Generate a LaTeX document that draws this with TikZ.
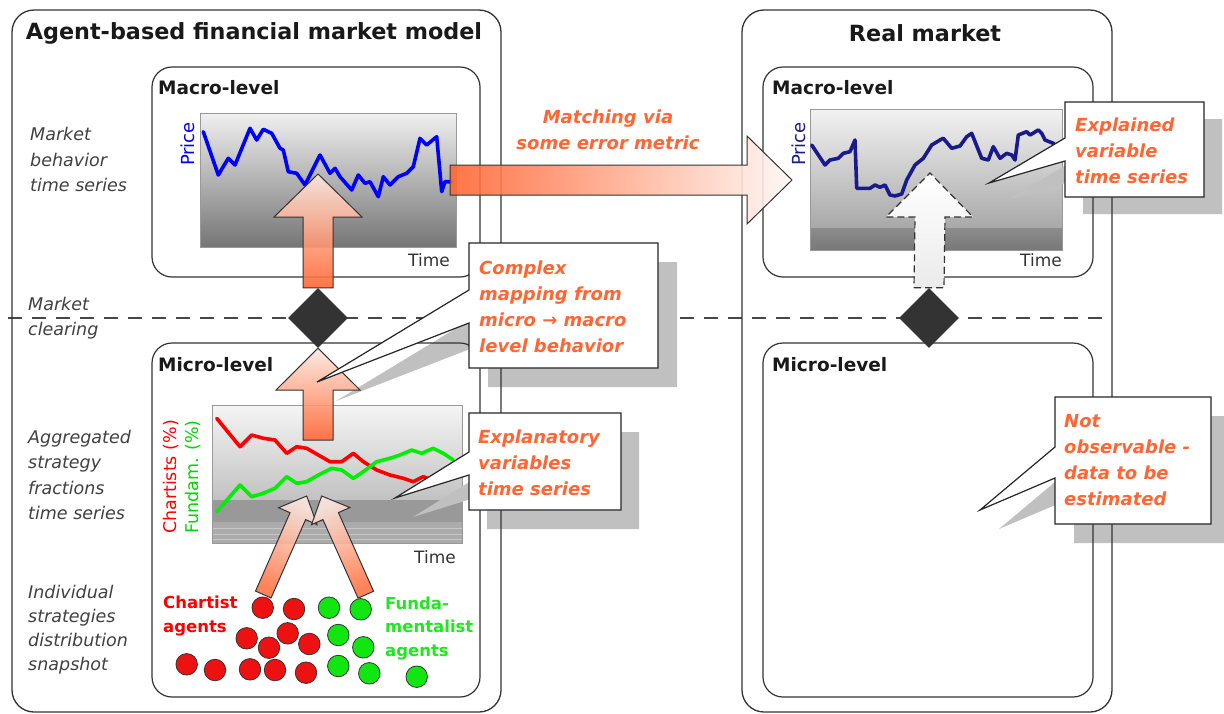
\documentclass[tikz,border=0pt]{standalone}
\usepackage{fontspec}
\setmainfont{DejaVu Sans}
\usetikzlibrary{shapes.geometric}

\definecolor{frame}{HTML}{333333}
\definecolor{accent}{HTML}{FF6633}
\definecolor{peach}{HTML}{FDE8E0}
\definecolor{labelgray}{HTML}{404040}
\definecolor{shadowgray}{HTML}{C0C0C0}
\definecolor{priceblue}{HTML}{0000FF}
\definecolor{pricenavy}{HTML}{1A1A8C}
\definecolor{chartred}{HTML}{FF0000}
\definecolor{chartgreen}{HTML}{00EE00}
\definecolor{agentred}{HTML}{EE1111}
\definecolor{agentgreen}{HTML}{11E611}
\definecolor{textgreen}{HTML}{22E622}
\definecolor{markgray}{HTML}{333333}
\definecolor{chartedge}{HTML}{999999}

\tikzset{
  outerbox/.style={draw=frame, line width=1.3pt, rounded corners=22pt},
  innerbox/.style={draw=frame, line width=1.2pt, rounded corners=20pt},
  calloutbox/.style={draw=black!85, line width=1.2pt, fill=white, line join=miter},
  calloutshadow/.style={fill=shadowgray},
  callouttext/.style={text=accent, font=\fontsize{18}{26}\selectfont\bfseries\itshape,
    align=left, anchor=west, inner sep=0pt},
  sidelabel/.style={text=labelgray, font=\fontsize{17.5}{25.5}\selectfont\itshape,
    align=left, anchor=west, inner sep=0pt},
  levellabel/.style={text=black!90, font=\fontsize{18.5}{22}\selectfont\bfseries,
    anchor=west, inner sep=0pt},
  titlelabel/.style={text=black!90, font=\fontsize{22.3}{26}\selectfont\bfseries, inner sep=0pt},
  axislabel/.style={text=frame, font=\fontsize{17}{20}\selectfont, inner sep=0pt},
  series/.style={line width=3.6pt, line join=round, line cap=round},
  agent/.style={circle, draw=frame, line width=0.8pt, minimum size=21.5pt, inner sep=0pt},
  clearmark/.style={diamond, fill=markgray, minimum width=60pt, minimum height=60pt,
    inner sep=0pt, aspect=1},
  blockarrow/.style={draw=frame, line width=1pt, line join=miter, fill opacity=0.9},
  agentlabel/.style={font=\fontsize{16.5}{23.5}\selectfont\bfseries, align=left,
    anchor=west, inner sep=0pt},
}

\begin{document}
\begin{tikzpicture}[x=1pt, y=-1pt]
\useasboundingbox (0,0) rectangle (1224,713);

% ---------- charts ----------
% macro level, model
\shade[top color=white!94!black, bottom color=black!54] (200,113) rectangle (456,247);
\draw[chartedge, line width=0.8pt] (200,113) rectangle (456,247);
% macro level, real market
\shade[top color=white!95!black, bottom color=black!34] (810,109) rectangle (1062,228);
\shade[top color=black!45, bottom color=black!53] (810,228) rectangle (1062,250);
\draw[chartedge, line width=0.8pt] (810,109) rectangle (1062,250);
% micro level, model
\shade[top color=white!96!black, bottom color=black!24] (212,405) rectangle (462,500);
\fill[black!40] (212,500) rectangle (462,522);
\fill[black!33] (212,522) rectangle (462,543);
\draw[black!22, line width=0.8pt] (212,528) -- (462,528) (212,534) -- (462,534) (212,539) -- (462,539);
\draw[chartedge, line width=0.8pt] (212,405) rectangle (462,543);

% price series
\draw[series, priceblue] (203.3,131.7) -- (218.3,175) -- (228.3,158.3) -- (235,165) -- (250,128.3)
  -- (256.7,140) -- (263.3,129.3) -- (271.7,133.3) -- (280,148.3) -- (283.3,150) -- (288.3,171.7)
  -- (296.7,173.3) -- (305,185) -- (320,155) -- (330,173.3) -- (335,168.3) -- (340,176.7)
  -- (351.7,190) -- (358.3,175) -- (365,183.3) -- (370,181.7) -- (378.3,196.7) -- (383.3,176.7)
  -- (390,185) -- (398.3,176.7) -- (406.7,173.3) -- (413.3,166.7) -- (420,138.3) -- (426.7,145)
  -- (436.7,136.7) -- (441.7,191.7) -- (445,181.7) -- (452,181.7);
\draw[series, pricenavy] (811.7,145) -- (825,165) -- (830,160) -- (838.3,158.3) -- (843.3,153.3)
  -- (850,151.7) -- (855,140) -- (856.7,188.3) -- (870,188.3) -- (875,185) -- (880,187.3)
  -- (885,185) -- (890,195) -- (895,196) -- (901.7,194) -- (906.7,180) -- (915,165) -- (923.3,158.3)
  -- (931.7,145) -- (940,140) -- (943.3,138.3) -- (951.7,148.3) -- (960,146) -- (966.7,136.7)
  -- (971.7,133.3) -- (981.7,158.3) -- (988.3,160) -- (993.3,146.7) -- (1000,158.3)
  -- (1006.7,153.3) -- (1011.7,155) -- (1015,160) -- (1018.3,135) -- (1026.7,131.7) -- (1030,135)
  -- (1038.3,130) -- (1041.7,133.3) -- (1045,140) -- (1053.3,143.3) -- (1058,148);
% strategy fractions
\draw[series, chartred] (216.7,418.3) -- (240,446.7) -- (251.7,435) -- (263.3,438.3) -- (275,440)
  -- (286.7,453.3) -- (296.7,446.7) -- (306.7,448.3) -- (318.3,455) -- (330,461.7) -- (341.7,461.7)
  -- (353.3,453.3) -- (363.3,461.7) -- (376.7,470) -- (390,475) -- (403.3,478.3) -- (413.3,481.7)
  -- (423.3,476.7) -- (432,480);
\draw[series, chartgreen] (216.7,511.7) -- (240,485) -- (251.7,496.7) -- (263.3,493.3) -- (275,488.3)
  -- (286.7,476.7) -- (296.7,483.3) -- (306.7,481.7) -- (318.3,475) -- (331.7,468.3) -- (341.7,470)
  -- (353.3,478.3) -- (363.3,471.7) -- (376.7,461.7) -- (390,458.3) -- (400,455) -- (411.7,450)
  -- (421.7,453.3) -- (433.3,448.3) -- (443.3,453.3) -- (453.3,460);

% axis labels
\node[axislabel] (timemodel) at (429,260) {Time};
\node[axislabel] (timereal) at (1041,260) {Time};
\node[axislabel] (timemicro) at (435,557) {Time};
\node[axislabel, text=priceblue, font=\fontsize{18}{20}\selectfont, rotate=90] (pricemodel) at (188,144) {Price};
\node[axislabel, text=pricenavy, font=\fontsize{18}{20}\selectfont, rotate=90] (pricereal) at (799,144) {Price};
\node[axislabel, text=chartred, font=\fontsize{17.5}{20}\selectfont, rotate=90] (chartists) at (171,477) {Chartists (\%)};
\node[axislabel, text=chartgreen!90!black, font=\fontsize{17.5}{20}\selectfont, rotate=90] (fundam) at (193,477) {Fundam. (\%)};

% ---------- market clearing line ----------
\draw[frame!90, line width=1.3pt, dash pattern=on 14pt off 10pt] (8,318) -- (1110,318);

% ---------- callout shadows ----------
\fill[calloutshadow, shift={(19,19)}] (469,243) -- (658,243) -- (658,368) -- (469,368) -- (469,323) -- (317,382) -- (469,290) -- cycle;
\fill[calloutshadow, shift={(18,19)}] (469,413) -- (621,413) -- (621,510) -- (469,510) -- (469,475) -- (395,498) -- (469,452) -- cycle;
\fill[calloutshadow, shift={(18,17)}] (1065,102) -- (1204,102) -- (1204,197) -- (1065,197) -- (1065,161) -- (989,183) -- (1065,138) -- cycle;
\fill[calloutshadow, shift={(19,19)}] (1055,397) -- (1211,397) -- (1211,524) -- (1055,524) -- (1055,478) -- (980,510) -- (1055,447) -- cycle;

% ---------- frames ----------
\draw[outerbox] (12,10) rectangle (501,712);
\draw[outerbox] (742,10) rectangle (1112,712);
\draw[innerbox] (152,67) rectangle (480,277);
\draw[innerbox] (152,343) rectangle (480,697);
\draw[innerbox] (763,67) rectangle (1093,277);
\draw[innerbox] (763,343) rectangle (1093,697);

\node[titlelabel] (titlemodel) at (254,33) {Agent-based financial market model};
\node[titlelabel] (titlereal) at (925,33) {Real market};
\node[levellabel] (macromodel) at (158,88) {Macro-level};
\node[levellabel] (micromodel) at (158,365) {Micro-level};
\node[levellabel] (macroreal) at (772,88) {Macro-level};
\node[levellabel] (microreal) at (772,365) {Micro-level};

% ---------- side labels ----------
\node[sidelabel] (lblmarket) at (30,159.5) {Market\\behavior\\time series};
\node[sidelabel] (lblclearing) at (28,318) {Market\\clearing};
\node[sidelabel] (lblaggregated) at (28,475) {Aggregated\\strategy\\fractions\\time series};
\node[sidelabel, font=\fontsize{17.5}{24}\selectfont\itshape] (lblindividual) at (28,629.5) {Individual\\strategies\\distribution\\snapshot};

% ---------- matching arrow ----------
\draw[blockarrow, left color=accent, right color=white!95!accent]
  (450,165) -- (747,165) -- (747,136) -- (792,180) -- (747,224) -- (747,195) -- (450,195) -- cycle;
\node[text=accent, font=\fontsize{18}{26}\selectfont\bfseries\itshape, align=center, inner sep=0pt]
  (matching) at (608,129.5) {Matching via\\some error metric};

% ---------- market clearing marks and vertical arrows ----------
\node[clearmark] (clearmodel) at (318,318) {};
\node[clearmark] (clearreal) at (929,318) {};

\draw[blockarrow, bottom color=accent, top color=peach]
  ([xshift=-15pt]clearmodel.north) -- ([xshift=15pt]clearmodel.north) -- (333,217) -- (362,217)
  -- (318,174) -- (274,217) -- (303,217) -- cycle;
\draw[blockarrow, bottom color=accent, top color=peach]
  (303,440) -- (333,440) -- (333,390) -- (360,390) -- (clearmodel.south) -- (276,390) -- (303,390) -- cycle;
\draw[draw=frame, line width=1.2pt, dash pattern=on 7pt off 4pt, top color=white, bottom color=white!92!black, line join=miter]
  ([xshift=-15pt]clearreal.north) -- ([xshift=15pt]clearreal.north) -- (945,217) -- (973,217)
  -- (930,173) -- (886,217) -- (915,217) -- cycle;

% ---------- agents ----------
\foreach \p [count=\i] in {(262.7,607.7),(294,609),(246.7,638.3),(287.7,633.3),(269,647.7),(309.3,644),
    (186.7,664.3),(215,670),(250,669.3),(275,670),(306,672.7)}
  \node[agent, fill=agentred] (red\i) at \p {};
\foreach \p [count=\i] in {(329,607.7),(360.7,609.3),(338.3,635),(363.3,647.3),(338.3,666),(369.3,673.3),(416.7,676.7)}
  \node[agent, fill=agentgreen] (green\i) at \p {};

\draw[blockarrow, bottom color=accent!90!white, top color=peach, shading angle=-24]
  (255.52,591.07) -- (290.05,512.71) -- (278.61,507.67) -- (306.7,496) -- (317.05,524.61)
  -- (305.61,519.57) -- (271.08,597.93) -- cycle;
\draw[blockarrow, bottom color=accent!90!white, top color=peach, shading angle=24]
  (358.04,598.17) -- (322.92,519.56) -- (311.51,524.66) -- (321.7,496) -- (349.85,507.52)
  -- (338.44,512.62) -- (373.56,591.23) -- cycle;

\node[agentlabel, text=chartred] (chartistlbl) at (163,616) {Chartist\\agents};
\node[agentlabel, text=textgreen] (fundalbl) at (385,628.5) {Funda-\\mentalist\\agents};

% ---------- callouts ----------
\draw[calloutbox] (469,243) -- (658,243) -- (658,368) -- (469,368) -- (469,323) -- (317,382) -- (469,290) -- cycle;
\node[callouttext] (mapping) at (479,306.5) {Complex\\mapping from\\micro → macro\\level behavior};

\draw[calloutbox] (469,413) -- (621,413) -- (621,510) -- (469,510) -- (469,475) -- (395,498) -- (469,452) -- cycle;
\node[callouttext] (explanatory) at (478,463) {Explanatory\\variables\\time series};

\draw[calloutbox] (1065,102) -- (1204,102) -- (1204,197) -- (1065,197) -- (1065,161) -- (989,183) -- (1065,138) -- cycle;
\node[callouttext] (explained) at (1075,151) {Explained\\variable\\time series};

\draw[calloutbox] (1055,397) -- (1211,397) -- (1211,524) -- (1055,524) -- (1055,478) -- (980,510) -- (1055,447) -- cycle;
\node[callouttext] (unobserved) at (1064,460) {Not\\observable -\\data to be\\estimated};

\end{tikzpicture}
\end{document}
